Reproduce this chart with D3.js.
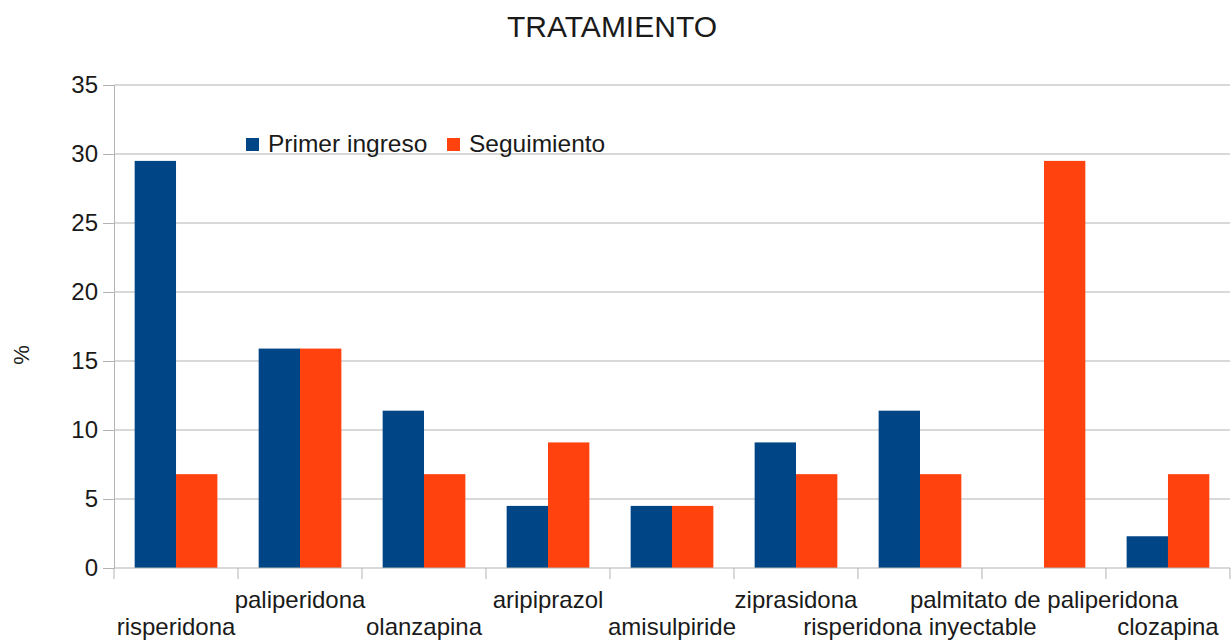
<!DOCTYPE html>
<html>
  <head>
    <meta charset="UTF-8"/>
    <script src="https://d3js.org/d3.v7.min.js"></script>
    <style>
      body { margin: 0; background: #fff; }
      text { font-family: "Liberation Sans", Arial, sans-serif; fill: #1a1a1a; }
      .grid line { stroke: #b3b3b3; }
    </style>
  </head>
  <body>
    <script>
      const categories = ['risperidona', 'paliperidona', 'olanzapina', 'aripiprazol', 'amisulpiride',
                          'ziprasidona', 'risperidona inyectable', 'palmitato de paliperidona', 'clozapina'];
      const seriesNames = ['Primer ingreso', 'Seguimiento'];
      const primerIngreso = [29.5, 15.9, 11.4, 4.5, 4.5, 9.1, 11.4, 0, 2.3];
      const seguimiento = [6.8, 15.9, 6.8, 9.1, 4.5, 6.8, 6.8, 29.5, 6.8];
      const yTicks = [0, 5, 10, 15, 20, 25, 30, 35];
      const colors = ['#004586', '#ff420e'];

      const width = 1231, height = 642;
      const plotLeft = 114, plotRight = 1230, plotTop = 85, plotBottom = 568;

      const svg = d3.select('body').append('svg')
        .attr('width', width)
        .attr('height', height);

      const x = d3.scaleBand()
        .domain(categories)
        .range([plotLeft, plotRight])
        .paddingInner(0.333)
        .paddingOuter(0.1667);

      const xSub = d3.scaleBand()
        .domain(seriesNames)
        .range([0, x.bandwidth()]);

      const y = d3.scaleLinear()
        .domain([0, 35])
        .range([plotBottom, plotTop]);

      // gridlines + y axis
      const yAxis = d3.axisLeft(y).tickValues(yTicks).tickSize(11).tickPadding(5);
      const gy = svg.append('g')
        .attr('transform', 'translate(' + plotLeft + ',0)')
        .call(yAxis);
      gy.select('.domain').attr('stroke', '#b3b3b3');
      gy.selectAll('.tick line').attr('stroke', '#b3b3b3');
      gy.selectAll('.tick text').style('font-size', '24px').attr('fill', '#1a1a1a');

      svg.append('g')
        .attr('class', 'grid')
        .selectAll('line')
        .data(yTicks.filter(d => d > 0))
        .join('line')
        .attr('x1', plotLeft)
        .attr('x2', plotRight)
        .attr('y1', d => y(d))
        .attr('y2', d => y(d));

      // bars
      const rows = categories.map((c, i) => ({ cat: c, vals: [primerIngreso[i], seguimiento[i]] }));
      svg.append('g')
        .selectAll('g')
        .data(rows)
        .join('g')
        .attr('transform', d => 'translate(' + x(d.cat) + ',0)')
        .selectAll('rect')
        .data(d => d.vals.map((v, j) => ({ name: seriesNames[j], v: v, j: j })))
        .join('rect')
        .attr('x', d => xSub(d.name))
        .attr('width', xSub.bandwidth())
        .attr('y', d => y(d.v))
        .attr('height', d => y(0) - y(d.v))
        .attr('fill', d => colors[d.j]);

      // x axis
      const step = x.step();
      const boundaries = d3.range(categories.length + 1).map(i => plotLeft + i * step);
      const gx = svg.append('g');
      gx.append('line')
        .attr('x1', plotLeft).attr('x2', plotRight)
        .attr('y1', plotBottom).attr('y2', plotBottom)
        .attr('stroke', '#b3b3b3');
      gx.selectAll('.xt')
        .data(boundaries)
        .join('line')
        .attr('class', 'xt')
        .attr('x1', d => d).attr('x2', d => d)
        .attr('y1', plotBottom).attr('y2', plotBottom + 11)
        .attr('stroke', '#b3b3b3');
      gx.selectAll('.xl')
        .data(categories)
        .join('text')
        .attr('class', 'xl')
        .attr('x', d => x(d) + x.bandwidth() / 2)
        .attr('y', (d, i) => i % 2 === 0 ? 635 : 608)
        .attr('text-anchor', 'middle')
        .style('font-size', '24px')
        .text(d => d);

      // title
      svg.append('text')
        .attr('x', 612)
        .attr('y', 37)
        .attr('text-anchor', 'middle')
        .style('font-size', '30px')
        .text('TRATAMIENTO');

      // y label
      svg.append('text')
        .attr('transform', 'translate(29,355) rotate(-90)')
        .attr('text-anchor', 'middle')
        .style('font-size', '22px')
        .text('%');

      // legend
      const legendX = [246, 447];
      const lg = svg.append('g');
      seriesNames.forEach((s, i) => {
        lg.append('rect')
          .attr('x', legendX[i]).attr('y', 138)
          .attr('width', 13).attr('height', 13)
          .attr('fill', colors[i]);
        lg.append('text')
          .attr('x', legendX[i] + 22).attr('y', 152)
          .style('font-size', '24.5px')
          .text(s);
      });
    </script>
  </body>
</html>
